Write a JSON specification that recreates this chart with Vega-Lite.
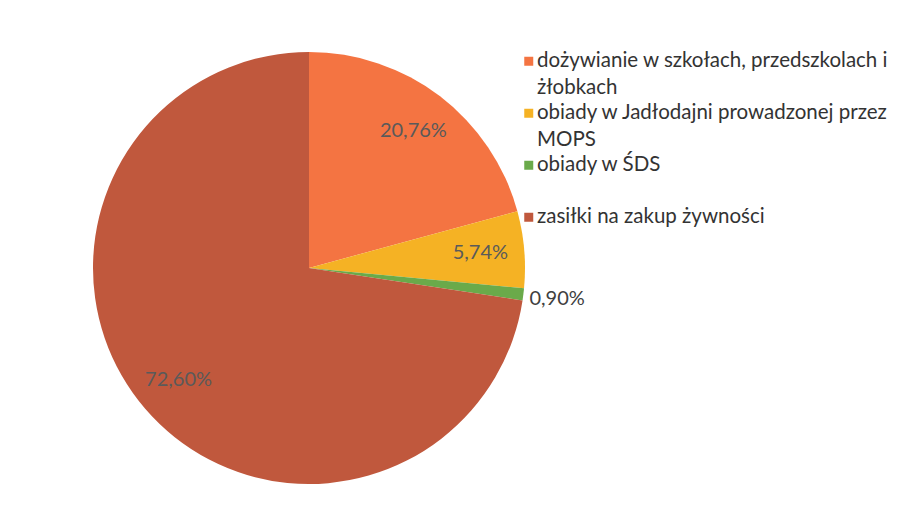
{
  "$schema": "https://vega.github.io/schema/vega-lite/v6.json",
  "width": 618,
  "height": 510,
  "padding": {"left": 0, "top": 13, "right": 0, "bottom": 0},
  "background": "white",
  "config": {"view": {"stroke": null}, "font": "Lato"},
  "data": {
    "values": [
      {"kategoria": "dożywianie w szkołach, przedszkolach i żłobkach", "udzial": 20.76, "etykieta": "20,76%", "kolejnosc": 1},
      {"kategoria": "obiady w Jadłodajni prowadzonej przez MOPS", "udzial": 5.74, "etykieta": "5,74%", "kolejnosc": 2},
      {"kategoria": "obiady w ŚDS", "udzial": 0.90, "etykieta": "0,90%", "kolejnosc": 3},
      {"kategoria": "zasiłki na zakup żywności", "udzial": 72.60, "etykieta": "72,60%", "kolejnosc": 4}
    ]
  },
  "encoding": {
    "theta": {"field": "udzial", "type": "quantitative", "stack": true},
    "order": {"field": "kolejnosc", "type": "quantitative"}
  },
  "layer": [
    {
      "mark": {"type": "arc", "outerRadius": 216},
      "encoding": {
        "color": {
          "field": "kategoria",
          "type": "nominal",
          "sort": ["dożywianie w szkołach, przedszkolach i żłobkach", "obiady w Jadłodajni prowadzonej przez MOPS", "obiady w ŚDS", "zasiłki na zakup żywności"],
          "scale": {
            "domain": ["dożywianie w szkołach, przedszkolach i żłobkach", "obiady w Jadłodajni prowadzonej przez MOPS", "obiady w ŚDS", "zasiłki na zakup żywności"],
            "range": ["#f47442", "#f5b224", "#6aaa4a", "#c0583d"]
          },
          "legend": {
            "title": null,
            "orient": "none",
            "legendX": 518.5,
            "legendY": 38,
            "symbolType": "square",
            "symbolSize": 81,
            "symbolStrokeWidth": 0,
            "labelFont": "Lato",
            "labelFontSize": 20.5,
            "labelColor": "#333333",
            "labelLimit": 600,
            "labelOffset": -2,
            "labelBaseline": "alphabetic",
            "rowPadding": 4,
            "labelExpr": "datum.label == 'dożywianie w szkołach, przedszkolach i żłobkach' ? ['dożywianie w szkołach, przedszkolach i', 'żłobkach'] : datum.label == 'obiady w Jadłodajni prowadzonej przez MOPS' ? ['obiady w Jadłodajni prowadzonej przez', 'MOPS'] : [datum.label, '']",
            "encode": {"labels": {"update": {"dy": {"value": 6}, "lineHeight": {"value": 27}}}}
          }
        }
      }
    },
    {
      "mark": {"type": "text", "fontSize": 20, "font": "Lato", "radius": 172, "color": "#5a5a5a"},
      "encoding": {
        "text": {"condition": {"test": "datum.kolejnosc != 3", "field": "etykieta"}, "value": ""}
      }
    },
    {
      "mark": {"type": "text", "fontSize": 20, "font": "Lato", "radius": 250, "color": "#404040"},
      "encoding": {
        "text": {"condition": {"test": "datum.kolejnosc == 3", "field": "etykieta"}, "value": ""}
      }
    }
  ]
}
